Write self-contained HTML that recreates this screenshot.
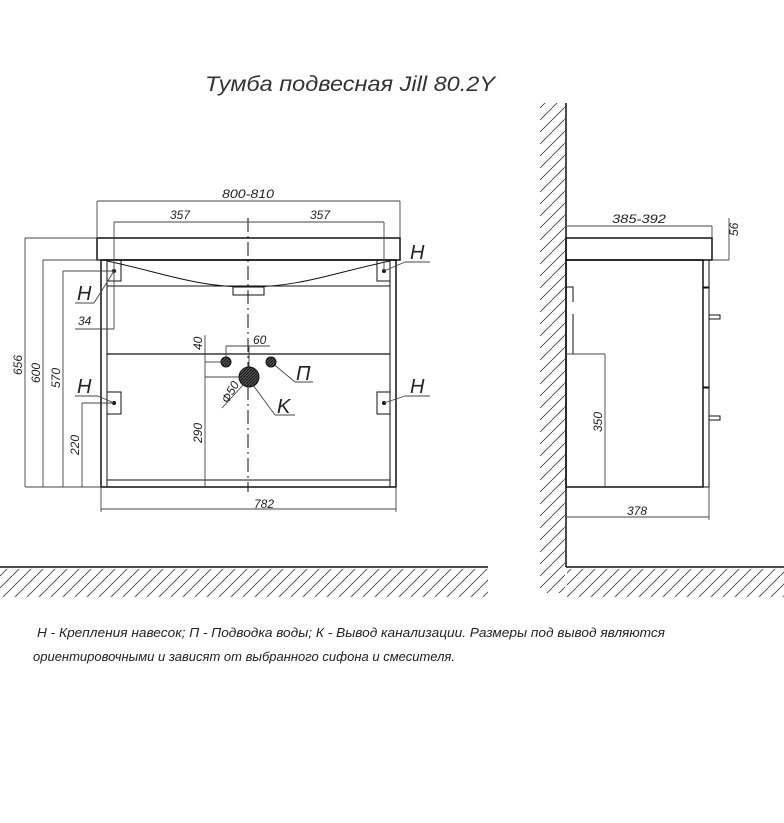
<!DOCTYPE html>
<html><head><meta charset="utf-8"><style>
html,body{margin:0;padding:0;background:#fff;}
svg{display:block;}
text{font-family:"Liberation Sans",sans-serif;font-style:italic;fill:#222;}
.dim{font-size:12px;fill:#555;}
</style></head><body>
<svg width="784" height="823" viewBox="0 0 784 823" xmlns="http://www.w3.org/2000/svg">
<defs>
<pattern id="h" width="12" height="12" patternUnits="userSpaceOnUse">
<line x1="0" y1="12" x2="12" y2="0" stroke="#444" stroke-width="0.9"/>
</pattern>
<pattern id="hd" width="3" height="3" patternUnits="userSpaceOnUse">
<rect width="3" height="3" fill="#555"/><line x1="0" y1="3" x2="3" y2="0" stroke="#111" stroke-width="1"/>
</pattern>
</defs>
<text x="205" y="91" font-size="21" textLength="290" lengthAdjust="spacingAndGlyphs" style="fill:#333">Тумба подвесная Jill 80.2Y</text>

<rect x="0" y="569" width="488" height="28" fill="url(#h)"/>
<line x1="0" y1="567" x2="488" y2="567" stroke="#111" stroke-width="1.5"/>

<rect x="540" y="103" width="25" height="490" fill="url(#h)"/>
<rect x="567" y="569" width="217" height="28" fill="url(#h)"/>
<line x1="566" y1="103" x2="566" y2="567" stroke="#111" stroke-width="1.5"/>
<line x1="566" y1="567" x2="784" y2="567" stroke="#111" stroke-width="1.5"/>

<g stroke="#111" fill="none" stroke-width="1">
<rect x="97" y="238" width="303" height="22" stroke-width="1.5"/>
<rect x="101" y="260" width="295" height="227" stroke-width="1.5"/>
<line x1="107" y1="260" x2="107" y2="487"/>
<line x1="390" y1="260" x2="390" y2="487"/>
<line x1="107" y1="480" x2="390" y2="480"/>
<line x1="107" y1="286" x2="390" y2="286"/>
<line x1="107" y1="354" x2="390" y2="354" stroke-width="1.3"/>
<path d="M107 261 C160 272 195 287 248 287 C301 287 336 272 390 261"/>
<rect x="233" y="287" width="31" height="8"/>
<line x1="248" y1="218" x2="248" y2="492" stroke-dasharray="14 4 2 4"/>
<rect x="107" y="260" width="14" height="21"/><rect x="107" y="392" width="14" height="22"/>
<rect x="377" y="260" width="13" height="21"/><rect x="377" y="392" width="13" height="22"/>
</g>
<g fill="#111"><circle cx="114" cy="271" r="2"/><circle cx="114" cy="403" r="2"/><circle cx="384" cy="271" r="2"/><circle cx="384" cy="403" r="2"/></g>

<g stroke="#444" fill="none" stroke-width="0.9">
<line x1="97" y1="201" x2="400" y2="201"/><line x1="97" y1="201" x2="97" y2="238"/><line x1="400" y1="201" x2="400" y2="238"/>
<line x1="114" y1="222" x2="384" y2="222"/><line x1="114" y1="222" x2="114" y2="271"/><line x1="384" y1="222" x2="384" y2="271"/>
<line x1="25" y1="238" x2="25" y2="487"/><line x1="25" y1="238" x2="97" y2="238"/>
<line x1="43" y1="260" x2="43" y2="487"/><line x1="43" y1="260" x2="101" y2="260"/>
<line x1="63" y1="271" x2="63" y2="487"/><line x1="63" y1="271" x2="114" y2="271"/>
<line x1="82" y1="403" x2="82" y2="487"/><line x1="82" y1="403" x2="114" y2="403"/>
<line x1="25" y1="487" x2="101" y2="487"/>
<line x1="75" y1="329" x2="114" y2="329"/><line x1="114" y1="271" x2="114" y2="329"/>
<line x1="101" y1="509" x2="396" y2="509"/><line x1="101" y1="487" x2="101" y2="512"/><line x1="396" y1="487" x2="396" y2="512"/>
<line x1="226" y1="346" x2="270" y2="346"/><line x1="226" y1="346" x2="226" y2="357"/><line x1="249" y1="346" x2="249" y2="377"/>
<line x1="205" y1="335" x2="205" y2="487"/>
<line x1="205" y1="362" x2="221" y2="362"/><line x1="205" y1="377" x2="249" y2="377"/>
<line x1="114" y1="271" x2="94" y2="303"/><line x1="75" y1="303" x2="94" y2="303"/>
<line x1="114" y1="403" x2="98" y2="396"/><line x1="75" y1="396" x2="98" y2="396"/>
<line x1="384" y1="271" x2="405" y2="262"/><line x1="405" y1="262" x2="430" y2="262"/>
<line x1="384" y1="403" x2="405" y2="396"/><line x1="405" y1="396" x2="430" y2="396"/>
<line x1="271" y1="362" x2="295" y2="382"/><line x1="295" y1="382" x2="313" y2="382"/>
<line x1="253" y1="385" x2="275" y2="415"/><line x1="275" y1="415" x2="295" y2="415"/>
<line x1="243" y1="385" x2="222" y2="408"/>
</g>
<circle cx="226" cy="362" r="5" fill="url(#hd)" stroke="#111"/>
<circle cx="271" cy="362" r="5" fill="url(#hd)" stroke="#111"/>
<circle cx="249" cy="377" r="10" fill="url(#hd)" stroke="#111"/>

<g class="dim">
<text x="222" y="198" textLength="52" lengthAdjust="spacingAndGlyphs">800-810</text>
<text x="170" y="219">357</text><text x="310" y="219">357</text>
<text x="254" y="508">782</text>
<text x="78" y="325">34</text>
<text x="253" y="344">60</text>
<text transform="translate(22 375) rotate(-90)">656</text>
<text transform="translate(40 383) rotate(-90)">600</text>
<text transform="translate(60 388) rotate(-90)">570</text>
<text transform="translate(79 455) rotate(-90)">220</text>
<text transform="translate(202 443) rotate(-90)">290</text>
<text transform="translate(202 350) rotate(-90)">40</text>
<text transform="translate(228 404) rotate(-60)">Ф50</text>
</g>
<g font-size="20">
<text x="77" y="300">H</text><text x="77" y="393">H</text>
<text x="410" y="259">H</text><text x="410" y="393">H</text>
<text x="296" y="380">П</text><text x="277" y="413">K</text>
</g>

<g stroke="#111" fill="none" stroke-width="1">
<rect x="566" y="238" width="146" height="22" stroke-width="1.5"/>
<rect x="566" y="260" width="137" height="227" stroke-width="1.5"/>
<rect x="703" y="260" width="6" height="27"/>
<rect x="703" y="288" width="6" height="99"/>
<rect x="703" y="388" width="6" height="99"/>
<rect x="709" y="315" width="11" height="4"/>
<rect x="709" y="416" width="11" height="4"/>
<polyline points="566,287 573,287 573,354"/>
<line x1="573" y1="292" x2="573" y2="350" stroke="#fff" stroke-width="2" stroke-dasharray="0 10 12 100"/>
</g>
<g stroke="#444" fill="none" stroke-width="0.9">
<line x1="566" y1="226" x2="712" y2="226"/><line x1="712" y1="226" x2="712" y2="238"/>
<line x1="712" y1="260" x2="729" y2="260"/><line x1="729" y1="218" x2="729" y2="260"/>
<line x1="566" y1="354" x2="605" y2="354"/><line x1="605" y1="354" x2="605" y2="487"/>
<line x1="566" y1="517" x2="709" y2="517"/><line x1="709" y1="487" x2="709" y2="520"/>
</g>
<g class="dim">
<text x="612" y="223" textLength="54" lengthAdjust="spacingAndGlyphs">385-392</text>
<text transform="translate(738 236) rotate(-90)">56</text>
<text transform="translate(602 432) rotate(-90)">350</text>
<text x="627" y="515">378</text>
</g>

<g font-size="13">
<text x="37" y="637" textLength="628" lengthAdjust="spacingAndGlyphs">Н - Крепления навесок; П - Подводка воды; К - Вывод канализации. Размеры под вывод являются</text>
<text x="33" y="661" textLength="422" lengthAdjust="spacingAndGlyphs">ориентировочными и зависят от выбранного сифона и смесителя.</text>
</g>
</svg>
</body></html>
